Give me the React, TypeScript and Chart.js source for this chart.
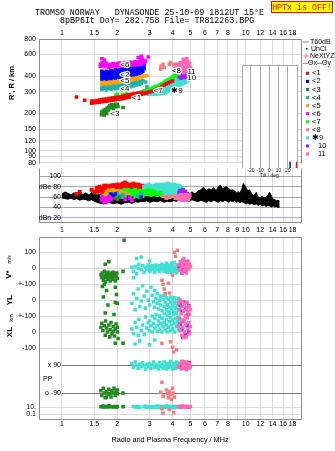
import { useEffect, useRef } from "react";
import { Chart, registerables } from "chart.js";

Chart.register(...registerables);

const SANS = "'Liberation Sans', Arial, sans-serif";
const MONO = "'Liberation Mono', 'DejaVu Sans Mono', monospace";

// ---------- axes / ticks ----------
const FREQ_MIN = 0.75;
const FREQ_MAX = 20;
const freqTicks = [1, 1.5, 2, 3, 4, 5, 6, 7, 8, 9, 10, 12, 14, 16, 18];
const freqLabelsTop = ["1", "1.5", "2", "3", "4", "5", "6", "7", "8", "", "10", "12", "14", "16", "18"];
const freqLabelsMid = ["1", "1.5", "2", "3", "4", "5", "6", "7", "8", "9", "10", "12", "14", "16", "18"];
const freqLabelsBottom = ["1", "1.5", "2", "3", "4", "5", "6", "7", "8", "", "10", "12", "14", "16", "18"];
const heightTicks = [80, 90, 100, 120, 150, 200, 300, 400, 600, 800];
const ampTicks = [20, 40, 60, 80, 100];
const ampLabels = ["dBn 20", "40", "60", "dBe 80", "100"];
const tiltTicks = [-20, -10, 0, 10, 20];

const traceNames = ["<1", "<2", "<3", "<4", "<5", "<6", "<7", "<8", "\u27319", "10", "11"];
const traceColors = ["#ff0000", "#0000ff", "#228b22", "#20b2aa", "#ffa500", "#ff00ff", "#00ff00", "#f08080", "#40e0d0", "#a020f0", "#ff69b4"];
const traceLabelFreq = [2.55, 2.2, 1.94, 2.2, 2.2, 2.2, 3.34, 4.2, 4.23, 5.08, 5.08];
const traceLabelHeight = [268, 412, 199, 317, 366, 495, 303, 445, 303, 388, 437];

type P = [number, number];

// ---------- panel A: virtual height (MHz, km) ----------
const hRed: P[] = [[1.2,272],[1.33,256],[1.45,242],[1.45,252],[1.5,244],[1.5,253],[1.55,246],[1.55,255],[1.6,247],[1.6,257],[1.65,249],[1.65,259],[1.7,251],[1.7,261],[1.75,252],[1.75,262],[1.8,254],[1.8,264],[1.85,256],[1.85,266],[1.9,257],[1.9,267],[1.95,259],[1.95,269],[2.0,261],[2.0,271],[2.05,262],[2.05,272],[2.1,264],[2.1,274],[2.15,265],[2.15,276],[2.2,267],[2.2,278],[2.25,269],[2.25,280],[2.3,271],[2.3,282],[2.35,273],[2.35,284],[2.4,275],[2.4,286],[2.45,277],[2.45,288],[2.5,279],[2.5,290],[2.55,281],[2.6,283],[2.6,293],[2.65,285],[2.7,287],[2.7,296],[2.75,289],[2.8,291],[2.85,293],[2.9,295],[3.0,298],[3.1,303],[3.2,309],[3.3,316],[3.4,323],[3.5,331],[3.6,340],[3.7,348],[3.8,355],[3.9,361],[4.0,366]];
const hGreen: P[] = [[1.97,282],[2.0,286],[2.15,285],[2.25,290],[2.75,298],[2.8,306],[2.85,302],[2.9,310],[2.95,306],[3.0,314],[3.05,311],[3.1,320],[3.15,317],[3.2,326],[3.25,323],[3.3,332],[3.35,330],[3.4,340],[3.45,338],[3.5,348],[3.55,346],[3.6,357],[3.65,355],[3.7,366],[3.75,364],[3.8,376],[3.85,374],[3.9,386],[3.95,384],[4.0,396],[4.05,394],[4.1,405],[4.15,404],[4.2,414],[4.25,420]];
const hCyan: P[] = [[2.85,288],[2.85,300],[2.95,287],[2.95,298],[2.95,310],[3.05,286],[3.05,297],[3.05,308],[3.05,318],[3.15,286],[3.15,296],[3.15,307],[3.15,318],[3.15,328],[3.25,287],[3.25,297],[3.25,308],[3.25,320],[3.25,332],[3.35,288],[3.35,299],[3.35,311],[3.35,323],[3.35,336],[3.45,290],[3.45,301],[3.45,313],[3.45,326],[3.45,340],[3.55,292],[3.55,304],[3.55,317],[3.55,331],[3.55,345],[3.65,295],[3.65,308],[3.65,322],[3.65,336],[3.65,350],[3.65,362],[3.75,300],[3.75,313],[3.75,327],[3.75,341],[3.75,356],[3.75,370],[3.85,306],[3.85,319],[3.85,333],[3.85,348],[3.85,362],[3.85,376],[3.95,312],[3.95,326],[3.95,340],[3.95,355],[3.95,370],[3.95,383],[4.05,318],[4.05,332],[4.05,347],[4.05,362],[4.05,377],[4.05,390],[4.15,324],[4.15,339],[4.15,354],[4.15,369],[4.15,384],[4.25,330],[4.25,345],[4.25,360],[4.25,375],[4.25,390],[4.35,336],[4.35,351],[4.35,366],[4.35,381],[4.35,396],[4.45,342],[4.45,357],[4.45,372],[4.45,387],[4.45,400],[4.55,348],[4.55,362],[4.55,377],[4.55,392],[4.65,354],[4.65,368],[4.65,382],[4.65,396],[4.75,360],[4.75,374],[4.75,388],[4.85,368],[4.85,381],[4.85,394],[4.95,376],[4.95,388],[4.95,400]];
const hTeal: P[] = [[1.65,313],[1.65,328],[1.7,318],[1.7,334],[1.75,312],[1.75,326],[1.8,320],[1.8,335],[1.85,314],[1.85,329],[1.9,322],[1.9,337],[1.95,317],[1.95,331],[2.0,324],[2.0,340],[2.05,319],[2.05,334],[2.1,327],[2.1,343],[2.15,322],[2.15,338],[2.2,330],[2.2,346],[2.25,326],[2.25,342],[2.3,334],[2.3,350],[2.35,330],[2.35,346],[2.4,338],[2.4,355],[2.45,334],[2.45,351],[2.5,343],[2.5,360],[2.55,340],[2.55,356],[2.6,348],[2.6,366],[2.65,345],[2.65,362],[2.7,352],[2.75,368],[2.85,360],[2.9,330]];
const hOrange: P[] = [[1.65,345],[1.65,362],[1.7,352],[1.7,368],[1.75,347],[1.75,362],[1.8,355],[1.8,371],[1.85,350],[1.85,366],[1.9,358],[1.9,374],[1.95,354],[1.95,370],[2.0,362],[2.0,378],[2.05,358],[2.05,374],[2.1,366],[2.1,383],[2.15,362],[2.15,379],[2.2,370],[2.2,387],[2.25,367],[2.25,384],[2.3,375],[2.3,392],[2.35,372],[2.35,389],[2.4,380],[2.4,398],[2.45,377],[2.45,394],[2.5,385],[2.5,403],[2.55,382],[2.55,400],[2.6,391],[2.6,409],[2.65,388],[2.65,406],[2.7,396],[2.7,414],[2.8,400],[2.9,405]];
const hBlue: P[] = [[1.65,380],[1.65,400],[1.65,422],[1.65,440],[1.7,386],[1.7,408],[1.7,430],[1.75,380],[1.75,398],[1.75,418],[1.75,440],[1.8,388],[1.8,410],[1.8,432],[1.85,384],[1.85,402],[1.85,424],[1.85,446],[1.9,392],[1.9,414],[1.9,436],[1.95,388],[1.95,408],[1.95,430],[1.95,452],[2.0,396],[2.0,418],[2.0,442],[2.05,392],[2.05,412],[2.05,434],[2.05,456],[2.1,400],[2.1,424],[2.1,448],[2.15,396],[2.15,418],[2.15,440],[2.15,462],[2.2,405],[2.2,428],[2.2,452],[2.25,402],[2.25,424],[2.25,446],[2.25,468],[2.3,410],[2.3,434],[2.3,458],[2.35,408],[2.35,430],[2.35,452],[2.35,474],[2.4,416],[2.4,440],[2.4,464],[2.45,412],[2.45,436],[2.45,460],[2.45,480],[2.5,420],[2.5,446],[2.5,470],[2.55,418],[2.55,442],[2.55,466],[2.55,486],[2.6,426],[2.6,450],[2.6,476],[2.65,424],[2.65,448],[2.65,472],[2.7,432],[2.7,456],[2.7,482],[2.75,440],[2.75,470],[2.8,460],[2.8,490]];
const hMagenta: P[] = [[1.62,480],[1.62,500],[1.65,515],[1.67,490],[1.7,478],[1.72,500],[1.75,485],[1.75,510],[1.8,492],[1.8,474],[1.85,500],[1.85,482],[1.9,488],[1.9,508],[1.95,496],[1.95,478],[2.0,504],[2.0,486],[2.05,492],[2.05,512],[2.1,500],[2.1,482],[2.15,508],[2.15,490],[2.2,496],[2.2,516],[2.25,504],[2.25,486],[2.3,512],[2.3,494],[2.35,500],[2.35,520],[2.4,508],[2.4,490],[2.45,516],[2.45,498],[2.5,505],[2.5,526],[2.55,512],[2.55,494],[2.6,520],[2.6,502],[2.65,510],[2.65,532],[2.7,518],[2.7,500],[2.75,526],[2.75,545],[2.8,512],[2.85,530],[2.95,572],[1.65,555],[1.7,540],[2.6,568],[2.7,580],[2.72,560]];
const hDkGreen: P[] = [[1.64,196],[1.65,206],[1.67,200],[1.68,212],[1.7,195],[1.7,204],[1.72,216],[1.73,208],[1.75,200],[1.76,222],[1.78,212],[1.8,226],[1.8,218],[1.82,232],[1.84,224],[1.86,236],[1.88,228],[1.9,220],[1.92,234],[1.94,226],[1.96,238],[1.98,230],[2.0,236],[2.02,228],[2.15,224]];
const hSalmon: P[] = [[3.45,456],[3.46,482],[3.55,500],[3.6,470],[3.84,500],[3.9,516],[4.05,495],[4.12,500],[4.12,460],[4.2,478],[4.4,505]];
const hPink: P[] = [[4.12,440],[4.15,470],[4.2,430],[4.22,500],[4.3,455],[4.3,485],[4.35,420],[4.4,470],[4.4,515],[4.45,440],[4.5,495],[4.55,460],[4.6,430],[4.6,520],[4.65,480],[4.7,450],[4.72,540],[4.75,505],[4.8,470],[4.82,430],[4.85,525],[4.9,490],[4.9,455],[4.95,510],[5.0,470],[4.58,548],[4.78,555]];
const hPurple: P[] = [[4.35,395],[4.4,415],[4.45,385],[4.5,405],[4.55,425],[4.6,395],[4.65,440],[4.7,410],[4.75,390],[4.8,425],[4.85,405],[4.4,440]];

// tilt inset (deg, km)
const tiltBlue: P[] = [[22.5, 84]];
const tiltRed: P[] = [[29.5, 84]];

// ---------- panel B: amplitude (MHz, dB) ----------
const noiseFreq = [1.0,1.04,1.08,1.12,1.16,1.2,1.25,1.3,1.35,1.4,1.45,1.5,1.55,1.6,1.7,1.8,1.9,2.0,2.1,2.2,2.3,2.4,2.5,2.6,2.7,2.8,2.9,3.0,3.15,3.3,3.45,3.6,3.75,3.9,4.05,4.2,4.35,4.5,4.65,4.8,4.95,5.1,5.3,5.5,5.7,5.9,6.1,6.3,6.5,6.7,6.9,7.1,7.3,7.5,7.7,7.9,8.1,8.3,8.5,8.7,8.9,9.1,9.3,9.5,9.7,9.9,10.1,10.3,10.5,10.8,11.1,11.4,11.7,12.0,12.3,12.6,12.9,13.2,13.5,13.8,14.1,14.4,14.7,15.0,15.3];
const noiseUpper = [66,70,67,64,68,66,70,65,68,64,69,66,64,65,63,64,62,64,62,63,62,63,62,63,62,64,66,63,64,62,63,62,64,63,62,64,62,63,62,64,66,70,66,72,74,79,72,76,74,78,72,80,83,76,79,80,76,73,74,72,68,70,68,74,86,82,76,72,74,66,63,69,60,59,62,58,60,64,69,62,56,55,53,54,52];
const noiseLower = [58,57,56,58,55,57,54,56,55,53,55,52,50,48,47,50,47,49,46,49,50,48,51,50,52,51,53,50,52,51,53,50,52,51,53,52,54,52,55,53,52,55,53,51,54,52,50,53,51,54,52,50,53,51,54,52,50,53,51,54,50,52,49,51,50,48,47,49,46,48,45,47,44,46,43,45,42,44,43,41,43,41,42,40,41];
const ampRed: P[] = [[1.2,66],[1.25,70],[1.45,74],[1.5,70],[1.55,70],[1.55,74],[1.55,78],[1.6,72],[1.6,76],[1.6,80],[1.65,70],[1.65,74],[1.65,78],[1.7,72],[1.7,76],[1.7,80],[1.7,82],[1.75,74],[1.75,78],[1.75,82],[1.8,72],[1.8,76],[1.8,80],[1.85,74],[1.85,78],[1.85,82],[1.9,72],[1.9,76],[1.9,80],[1.9,83],[1.95,74],[1.95,78],[1.95,82],[2.0,72],[2.0,76],[2.0,80],[2.0,84],[2.05,74],[2.05,78],[2.05,82],[2.1,72],[2.1,76],[2.1,80],[2.1,84],[2.15,74],[2.15,78],[2.15,82],[2.15,86],[2.2,76],[2.2,80],[2.2,84],[2.2,88],[2.25,74],[2.25,78],[2.25,82],[2.25,86],[2.3,72],[2.3,76],[2.3,80],[2.3,84],[2.35,74],[2.35,78],[2.35,82],[2.4,76],[2.4,80],[2.4,84],[2.45,74],[2.45,78],[2.45,82],[2.45,86],[2.5,72],[2.5,76],[2.5,80],[2.5,84],[2.55,74],[2.55,78],[2.55,82],[2.6,72],[2.6,76],[2.6,80],[2.6,84],[2.65,74],[2.65,78],[2.65,82],[2.7,72],[2.7,76],[2.7,80],[2.75,74],[2.75,78],[2.75,82],[2.8,72],[2.8,76],[2.8,80]];
const ampOrange: P[] = [[1.75,64],[1.75,70],[1.8,67],[1.8,73],[1.85,64],[1.85,70],[1.9,66],[1.9,74],[1.95,63],[1.95,69],[2.0,66],[2.0,72],[2.05,64],[2.1,70],[2.15,66],[2.2,68],[1.7,62],[2.3,64]];
const ampTeal: P[] = [[1.82,66],[1.85,62],[1.9,64],[1.95,60],[2.0,68],[2.05,62],[2.1,60],[2.15,64],[2.6,62],[2.7,66]];
const ampGreen: P[] = [[2.05,66],[2.1,62],[2.1,72],[2.15,68],[2.2,62],[2.2,74],[2.25,66],[2.25,70],[2.3,62],[2.3,74],[2.35,68],[2.4,64],[2.4,72],[2.45,60],[2.45,68],[2.5,66],[2.5,74],[2.55,62],[2.55,70],[2.6,66],[2.65,60],[2.65,72],[2.7,66],[2.75,62],[2.75,70],[2.8,66],[2.85,72],[2.9,66],[2.95,74],[3.0,68],[3.05,64],[3.1,72],[3.15,66],[3.2,70],[3.3,64],[3.4,68],[3.5,64]];
const ampBlue: P[] = [[1.85,66],[1.9,62],[1.95,66],[2.3,60],[2.7,60],[2.4,58]];
const ampMagenta: P[] = [[1.65,54],[1.65,60],[1.7,50],[1.7,56],[1.75,52],[1.75,58],[1.8,54],[1.8,60],[1.85,56],[2.35,58],[2.4,54],[2.2,56]];
const ampDkGreen: P[] = [[1.95,58],[2.0,56],[2.05,60]];
const ampCyan: P[] = [[2.8,68],[2.8,74],[2.8,80],[2.88,70],[2.88,76],[2.88,82],[2.96,68],[2.96,74],[2.96,80],[2.96,84],[3.04,70],[3.04,76],[3.04,82],[3.12,68],[3.12,74],[3.12,80],[3.2,70],[3.2,76],[3.2,82],[3.28,68],[3.28,74],[3.28,80],[3.28,84],[3.36,70],[3.36,76],[3.36,82],[3.44,66],[3.44,72],[3.44,78],[3.44,84],[3.52,70],[3.52,76],[3.52,82],[3.6,66],[3.6,72],[3.6,78],[3.6,84],[3.68,70],[3.68,76],[3.68,82],[3.76,66],[3.76,72],[3.76,78],[3.76,86],[3.84,70],[3.84,76],[3.84,82],[3.92,66],[3.92,72],[3.92,78],[3.92,84],[4.0,70],[4.0,76],[4.0,82],[4.08,66],[4.08,72],[4.08,78],[4.08,84],[4.16,70],[4.16,76],[4.16,82],[4.24,66],[4.24,72],[4.24,78],[4.32,70],[4.32,76],[4.32,82],[4.4,68],[4.4,74],[4.4,80],[4.48,70],[4.48,76],[4.56,68],[4.56,74],[4.64,72]];
const ampPink: P[] = [[4.25,58],[4.3,62],[4.35,56],[4.4,60],[4.45,64],[4.5,58],[4.55,62],[4.6,56],[4.65,60],[4.7,64],[4.75,58],[4.8,62],[4.85,56],[4.9,60],[4.95,64],[4.5,54],[4.7,54]];
const ampPurple: P[] = [[4.35,68],[4.4,72],[4.45,66],[4.5,70],[4.55,74],[4.6,68],[4.7,70],[4.8,66]];
const ampSalmon: P[] = [[3.55,62],[3.7,58],[3.85,60],[4.0,62],[4.15,58],[4.3,62],[4.45,66]];

// ---------- panel C: Doppler V* (m/s), YL, XL (km), PP (deg), EP (deg) ----------
const vDkGreen: P[] = [[1.63,-40],[1.65,-60],[1.66,-30],[1.68,-75],[1.7,-45],[1.7,-20],[1.72,-60],[1.73,-85],[1.75,-35],[1.76,-50],[1.78,-70],[1.78,-25],[1.8,-55],[1.82,-40],[1.83,-80],[1.85,-30],[1.86,-60],[1.88,-45],[1.9,-70],[1.9,-25],[1.92,-55],[1.94,-38],[1.95,-80],[1.97,-50],[1.99,-30],[2.0,-65],[1.72,25],[1.8,40],[1.66,-115],[1.75,-140],[1.95,-120],[1.98,-165],[1.7,-100],[2.15,-20],[2.18,175]];
const vCyan: P[] = [[2.4,5],[2.45,-20],[2.5,10],[2.55,-35],[2.6,0],[2.62,25],[2.7,-10],[2.75,15],[2.8,-25],[2.85,5],[2.9,-5],[2.95,20],[3.0,0],[3.0,-20],[3.05,10],[3.1,-10],[3.1,15],[3.15,-5],[3.2,5],[3.2,-25],[3.25,20],[3.3,-10],[3.3,10],[3.35,0],[3.4,-20],[3.4,15],[3.45,5],[3.5,-10],[3.5,25],[3.55,0],[3.6,-20],[3.6,15],[3.65,5],[3.7,-10],[3.7,30],[3.75,-25],[3.75,10],[3.8,0],[3.85,-15],[3.85,20],[3.9,5],[3.95,-25],[3.95,30],[4.0,-5],[4.0,15],[4.05,-20],[4.1,5],[4.1,35],[4.15,-10],[4.2,20],[4.2,-30],[4.25,0],[4.3,15],[4.35,-15],[4.4,10],[2.55,60],[2.7,70],[3.0,45],[2.45,-60]];
const vPink: P[] = [[4.3,20],[4.35,-10],[4.4,40],[4.45,0],[4.5,25],[4.5,-25],[4.55,50],[4.6,10],[4.65,-15],[4.7,35],[4.75,0],[4.8,20],[4.85,45],[4.9,-5],[4.95,25],[5.0,10],[4.6,60],[4.75,-30]];
const vPurple: P[] = [[4.35,10],[4.45,30],[4.55,-10],[4.65,20],[4.75,40],[4.85,0],[4.5,-30],[4.7,-20]];
const vSalmon: P[] = [[3.5,-75],[3.55,-100],[3.6,-130],[3.8,-95],[3.85,-155],[3.65,-160],[4.1,100],[4.15,75],[4.25,112],[4.0,-45]];
const ylDkGreen: P[] = [[1.68,20],[1.78,-30],[1.95,-15],[1.72,-80],[1.92,-90],[2.0,-20]];
const ylCyan: P[] = [[2.4,-20],[2.45,40],[2.5,-60],[2.55,10],[2.6,70],[2.65,-40],[2.7,-5],[2.75,90],[2.8,25],[2.85,-50],[2.9,55],[2.95,0],[3.0,-30],[3.05,80],[3.1,30],[3.15,-10],[3.2,60],[3.2,-45],[3.25,10],[3.3,-20],[3.3,40],[3.35,-55],[3.4,0],[3.45,-30],[3.45,25],[3.5,-65],[3.55,5],[3.6,-40],[3.6,30],[3.65,-15],[3.7,-60],[3.7,15],[3.75,-30],[3.8,5],[3.8,-70],[3.85,-45],[3.9,20],[3.9,-15],[3.95,-55],[4.0,0],[4.0,-35],[4.05,-70],[4.1,15],[4.1,-20],[4.15,-50],[4.2,-5],[4.2,-80],[4.25,-35],[4.3,10],[4.3,-60],[4.35,-20],[4.4,-45]];
const ylPink: P[] = [[4.3,-20],[4.35,-60],[4.4,0],[4.45,-85],[4.5,-40],[4.55,-10],[4.6,-70],[4.65,-30],[4.7,-100],[4.75,-50],[4.8,-15],[4.85,-75],[4.9,-40],[4.95,-90],[5.0,-60]];
const ylPurple: P[] = [[4.4,-30],[4.5,-70],[4.6,-10],[4.7,-55],[4.8,-95],[4.9,-35]];
const xlDkGreen: P[] = [[1.63,30],[1.65,55],[1.67,10],[1.7,40],[1.72,-20],[1.73,70],[1.75,25],[1.77,0],[1.8,45],[1.82,-30],[1.83,15],[1.85,60],[1.87,-10],[1.9,35],[1.9,5],[1.93,-25],[1.95,20],[1.97,50],[2.0,0],[2.0,30],[2.02,-40],[1.95,-70],[2.15,-70]];
const xlCyan: P[] = [[2.4,20],[2.45,-10],[2.5,60],[2.55,30],[2.6,-20],[2.62,80],[2.7,10],[2.75,45],[2.8,-15],[2.85,95],[2.9,25],[2.95,60],[3.0,10],[3.0,70],[3.05,40],[3.1,100],[3.1,0],[3.15,55],[3.2,25],[3.2,85],[3.25,110],[3.3,40],[3.3,5],[3.35,70],[3.4,20],[3.4,100],[3.45,55],[3.5,0],[3.5,85],[3.55,35],[3.6,115],[3.6,60],[3.65,15],[3.7,80],[3.7,45],[3.75,105],[3.75,0],[3.8,30],[3.85,65],[3.85,120],[3.9,10],[3.9,90],[3.95,45],[4.0,75],[4.0,20],[4.05,110],[4.1,55],[4.1,0],[4.15,85],[4.2,35],[4.2,120],[4.25,65],[4.3,15],[4.3,95],[4.35,50],[4.4,80],[4.4,25],[2.5,-75],[2.65,-55],[3.2,-50],[3.0,-80]];
const xlPink: P[] = [[4.3,40],[4.35,85],[4.4,10],[4.45,60],[4.5,-20],[4.55,30],[4.6,75],[4.65,0],[4.7,50],[4.75,-30],[4.8,90],[4.85,20],[4.9,60],[4.95,-10],[5.0,35],[4.6,-35]];
const xlPurple: P[] = [[4.4,50],[4.5,15],[4.6,70],[4.7,-15],[4.8,40],[4.9,0],[4.55,-30]];
const xlSalmon: P[] = [[3.9,-60],[4.0,-95],[4.05,-125],[3.5,-70],[4.2,-110]];
const ppDkGreen: P[] = [[1.63,-75],[1.65,-105],[1.68,-60],[1.7,-90],[1.72,-120],[1.75,-80],[1.78,-100],[1.8,-65],[1.82,-95],[1.85,-115],[1.87,-75],[1.9,-90],[1.92,-60],[1.95,-105],[1.97,-80],[2.0,-95],[2.0,-70],[1.75,-115],[2.15,-90]];
const ppCyan: P[] = [[2.4,100],[2.45,75],[2.5,110],[2.55,90],[2.6,70],[2.65,95],[2.7,80],[2.75,105],[2.8,85],[2.85,65],[2.9,95],[2.95,80],[3.0,100],[3.05,70],[3.1,90],[3.15,110],[3.2,75],[3.25,95],[3.3,85],[3.35,65],[3.4,105],[3.45,80],[3.5,95],[3.55,70],[3.6,110],[3.65,85],[3.7,65],[3.75,100],[3.8,75],[3.85,95],[3.9,115],[3.95,80],[4.0,65],[4.05,100],[4.1,85],[4.15,70],[4.2,110],[4.25,90],[4.3,75],[4.35,100],[4.4,85]];
const ppPink: P[] = [[4.3,80],[4.4,100],[4.45,65],[4.5,115],[4.55,90],[4.6,70],[4.65,105],[4.7,85],[4.75,60],[4.8,110],[4.85,90],[4.9,70],[4.95,100],[5.0,80]];
const ppPurple: P[] = [[4.4,80],[4.5,95],[4.6,110],[4.7,70],[4.8,90],[4.9,105]];
const ppSalmon: P[] = [[3.5,-20],[3.45,-85],[3.55,-110],[3.7,-70],[3.75,-95],[3.8,-120],[3.85,-80],[3.9,-100],[4.0,-60],[4.05,-90],[4.1,-115],[3.95,-130]];
const epDkGreen: P[] = [[1.63,12],[1.66,15],[1.7,10],[1.74,14],[1.78,11],[1.82,16],[1.86,12],[1.9,10],[1.94,15],[1.98,11],[2.0,13],[1.68,20],[1.8,22],[2.15,12]];
const epCyan: P[] = [[2.45,15],[2.5,12],[2.55,10],[2.6,14],[2.65,8],[2.8,12],[2.85,16],[2.9,9],[3.0,13],[3.05,7],[3.1,11],[3.15,15],[3.2,8],[3.25,12],[3.3,18],[3.35,9],[3.4,13],[3.45,6],[3.5,11],[3.55,15],[3.6,8],[3.65,12],[3.7,20],[3.75,9],[3.8,14],[3.85,7],[3.9,12],[3.95,16],[4.0,9],[4.05,13],[4.1,6],[4.15,11],[4.2,15],[4.25,8],[4.3,12],[4.35,10],[4.4,14]];
const epPink: P[] = [[4.3,15],[4.4,10],[4.5,18],[4.6,12],[4.7,8],[4.8,16],[4.9,11],[5.0,14]];
const epPurple: P[] = [[4.45,10],[4.6,15],[4.75,12],[4.9,9]];
const epSalmon: P[] = [[3.55,0.2],[3.5,3],[3.85,2],[4.05,0.25]];

// ---------- composite rows of panel C (axis unit = px from panel bottom) ----------
const vRow = (v: number) => 151 + v * 0.16;
const ylRow = (v: number) => 119 + v * 0.16;
const xlRow = (v: number) => 87 + v * 0.16;
const ppRow = (p: number) => 40 + (p * 14) / 90;
const epRow = (e: number) => 8.5 + 3.5 * Math.log10(e);
const cTicks = [vRow(100), vRow(0), vRow(-100), ylRow(0), ylRow(-100), xlRow(0), xlRow(-100), epRow(10), epRow(0.1)];
const cTickLabels = ["100", "0", "+-100", "0", "+-100", "0", "-100", "10.", "0.1"];

const GRID = "#dcdcdc";
const FRAME = "#8c8c8c";
const tickFont = { family: SANS, size: 7 };

const pts = (arr: P[], fy: (v: number) => number = (v) => v) => arr.map(([x, y]) => ({ x, y: fy(y) }));

function sq(data: any[], color: string, r: number) {
  return { type: "scatter", data, backgroundColor: color, borderWidth: 0, pointStyle: "rect", pointRadius: r, pointHoverRadius: r };
}

function ordered(list: any[]) {
  // first element is drawn at the bottom
  return list.map((d, i) => ({ ...d, order: list.length - i }));
}

function freqAxis(position: string, labels: string[], height: number, pad: number, title?: any) {
  return {
    type: "logarithmic",
    position,
    min: FREQ_MIN,
    max: FREQ_MAX,
    afterBuildTicks: (s: any) => {
      s.ticks = freqTicks.map((v) => ({ value: v }));
    },
    afterFit: (s: any) => {
      s.height = height;
    },
    ticks: { autoSkip: false, maxRotation: 0, minRotation: 0, padding: pad, font: tickFont, color: "#000", callback: (_v: any, i: number) => labels[i] },
    grid: { color: GRID, lineWidth: 1, drawTicks: false },
    border: { display: false },
    title: title || { display: false },
  };
}

function framePlugin(sides: string, color = FRAME) {
  return {
    id: "frame",
    afterDatasetsDraw(chart: any) {
      const { ctx, chartArea: a } = chart;
      const l = Math.round(a.left) + 0.5;
      const r = Math.round(a.right) + 0.5;
      const t = Math.round(a.top) + 0.5;
      const b = Math.round(a.bottom) + 0.5;
      ctx.save();
      ctx.strokeStyle = color;
      ctx.lineWidth = 1;
      ctx.beginPath();
      if (sides.includes("l")) { ctx.moveTo(l, t); ctx.lineTo(l, b); }
      if (sides.includes("r")) { ctx.moveTo(r, t); ctx.lineTo(r, b); }
      if (sides.includes("t")) { ctx.moveTo(l, t); ctx.lineTo(r, t); }
      if (sides.includes("b")) { ctx.moveTo(l, b); ctx.lineTo(r, b); }
      ctx.stroke();
      ctx.restore();
    },
  };
}

function vText(ctx: any, text: string, x: number, y: number, font: string) {
  ctx.save();
  ctx.translate(x, y);
  ctx.rotate(-Math.PI / 2);
  ctx.font = font;
  ctx.textAlign = "center";
  ctx.textBaseline = "middle";
  ctx.fillText(text, 0, 0);
  ctx.restore();
}

const baseOptions = {
  responsive: false,
  animation: false,
  events: [],
  devicePixelRatio: 1,
};

const noPlugins = { legend: { display: false }, tooltip: { enabled: false } };

function cfgA() {
  const sets = [hCyan, hGreen, hRed, hTeal, hOrange, hBlue, hMagenta, hDkGreen, hSalmon, hPurple, hPink];
  const cols = [traceColors[8], traceColors[6], traceColors[0], traceColors[3], traceColors[4], traceColors[1], traceColors[5], traceColors[2], traceColors[7], traceColors[9], traceColors[10]];
  const datasets = ordered(sets.map((s, i) => sq(pts(s), cols[i], 2.5)));
  const annot = {
    id: "annotA",
    afterDatasetsDraw(chart: any) {
      const { ctx, scales } = chart;
      ctx.save();
      ctx.font = `8px ${SANS}`;
      ctx.textAlign = "center";
      ctx.textBaseline = "middle";
      ctx.lineJoin = "round";
      traceNames.forEach((n, i) => {
        const x = scales.x.getPixelForValue(traceLabelFreq[i]);
        const y = scales.y.getPixelForValue(traceLabelHeight[i]);
        ctx.strokeStyle = "#fff";
        ctx.lineWidth = 2.5;
        ctx.strokeText(n, x, y);
        ctx.fillStyle = "#000";
        ctx.fillText(n, x, y);
      });
      ctx.restore();
    },
    afterDraw(chart: any) {
      const { ctx } = chart;
      ctx.save();
      // title lines
      ctx.fillStyle = "#000";
      ctx.font = `8.3px ${MONO}`;
      ctx.textBaseline = "middle";
      ctx.textAlign = "left";
      ctx.fillText("TROMSO NORWAY   DYNASONDE 25-10-09 1812UT 15\u00b0E", 35, 12.5);
      ctx.fillText("8pBP6It DoY= 282.758 File= TR812263.BPG", 60, 21);
      // HPTx box
      ctx.fillStyle = "#ffff00";
      ctx.fillRect(271, 1, 62, 12);
      ctx.strokeStyle = "#ff0000";
      ctx.lineWidth = 1;
      ctx.strokeRect(271.5, 1.5, 61, 11);
      ctx.fillStyle = "#ff0000";
      ctx.textAlign = "center";
      ctx.fillText("HPTx is OFF!", 302, 7.5);
      // y title
      ctx.fillStyle = "#000";
      vText(ctx, "R', R / km", 11.5, 83, `bold 7.5px ${SANS}`);
      // legend
      ctx.font = `7px ${SANS}`;
      ctx.textAlign = "left";
      ctx.textBaseline = "middle";
      ctx.strokeStyle = "#b0b0b0";
      ctx.lineWidth = 1.5;
      ctx.beginPath(); ctx.moveTo(303, 42); ctx.lineTo(309, 42); ctx.stroke();
      ctx.fillStyle = "#000";
      ctx.fillText("T60dB", 310, 42);
      ctx.fillRect(306, 48, 1.5, 1.5);
      ctx.fillText("UnCl", 311, 49);
      ctx.strokeStyle = "#ff69b4";
      ctx.lineWidth = 1;
      ctx.beginPath(); ctx.moveTo(303.5, 56); ctx.lineTo(308.5, 56); ctx.moveTo(306, 53.5); ctx.lineTo(306, 58.5); ctx.stroke();
      ctx.fillText("NeXtYZ", 310, 56);
      ctx.strokeStyle = "#f08080";
      ctx.beginPath(); ctx.moveTo(303, 63.5); ctx.lineTo(308, 63.5); ctx.stroke();
      ctx.fillText("\u0398x", 308, 63.5);
      ctx.strokeStyle = "#8080ff";
      ctx.beginPath(); ctx.moveTo(317, 63.5); ctx.lineTo(322, 63.5); ctx.stroke();
      ctx.fillText("\u0398y", 322, 63.5);
      traceNames.forEach((n, i) => {
        const y = 73.3 + i * 8.07;
        ctx.fillStyle = traceColors[i];
        ctx.fillRect(306, y - 1.5, 3, 3);
        ctx.fillStyle = "#000";
        ctx.font = `7.5px ${SANS}`;
        ctx.fillText(n, i >= 9 ? 318 : 312, y);
      });
      ctx.restore();
    },
  };
  return {
    type: "scatter",
    data: { datasets },
    options: {
      ...baseOptions,
      layout: { padding: { left: 0, right: 34, top: 0, bottom: 2 }, autoPadding: false },
      plugins: noPlugins,
      scales: {
        x: freqAxis("top", freqLabelsTop, 39, 1.5),
        y: {
          type: "logarithmic",
          min: 80,
          max: 800,
          afterBuildTicks: (s: any) => {
            s.ticks = heightTicks.map((v) => ({ value: v }));
          },
          afterFit: (s: any) => {
            s.width = 39;
          },
          ticks: { autoSkip: false, padding: 3, font: tickFont, color: "#000", callback: (_v: any, i: number) => String(heightTicks[i]) },
          grid: { color: GRID, drawTicks: false },
          border: { display: false },
        },
      },
    },
    plugins: [framePlugin("ltr"), annot],
  };
}

function cfgTilt() {
  const datasets = [
    { type: "scatter", data: pts(tiltBlue), borderColor: "#0000ff", borderWidth: 1.5, pointStyle: "line", rotation: 90, pointRadius: 3.5 },
    { type: "scatter", data: pts(tiltRed), borderColor: "#ff0000", borderWidth: 1.5, pointStyle: "line", rotation: 90, pointRadius: 3.5 },
  ];
  const bg = {
    id: "bg",
    beforeDraw(chart: any) {
      const { ctx, chartArea: a } = chart;
      ctx.save();
      ctx.fillStyle = "#fff";
      ctx.fillRect(a.left, a.top, a.right - a.left, a.bottom - a.top);
      ctx.restore();
    },
  };
  return {
    type: "scatter",
    data: { datasets },
    options: {
      ...baseOptions,
      layout: { padding: { left: 11.7, right: 38, top: 10, bottom: 0 }, autoPadding: false },
      plugins: noPlugins,
      scales: {
        x: {
          type: "linear",
          min: -30,
          max: 30,
          afterBuildTicks: (s: any) => {
            s.ticks = tiltTicks.map((v) => ({ value: v }));
          },
          afterFit: (s: any) => {
            s.height = 12;
          },
          ticks: { autoSkip: false, maxRotation: 0, padding: 0, font: { family: SANS, size: 5 }, color: "#222", callback: (_v: any, i: number) => String(tiltTicks[i]) },
          grid: { color: "#a8a8b8", drawTicks: false },
          border: { display: false },
          title: { display: true, text: "Tilt / deg", font: { family: SANS, size: 5 }, color: "#222", padding: { top: 0, bottom: 1.5 } },
        },
        y: { type: "logarithmic", min: 80, max: 502, display: false },
      },
    },
    plugins: [bg, framePlugin("lrt", "#a8a8b8")],
  };
}

function cfgB() {
  const noiseL = noiseFreq.map((f, i) => ({ x: f, y: noiseLower[i] }));
  const noiseU = noiseFreq.map((f, i) => ({ x: f, y: noiseUpper[i] }));
  const sets = [
    { type: "line", data: noiseL, borderColor: "#000", borderWidth: 1, pointRadius: 0, fill: false, tension: 0 },
    { type: "line", data: noiseU, borderColor: "#000", backgroundColor: "#000", borderWidth: 1, pointRadius: 0, fill: "-1", tension: 0 },
    sq(pts(ampRed), traceColors[0], 2.8),
    sq(pts(ampCyan), traceColors[8], 2.8),
    sq(pts(ampGreen), traceColors[6], 2.8),
    sq(pts(ampOrange), traceColors[4], 2.8),
    sq(pts(ampTeal), traceColors[3], 2.8),
    sq(pts(ampBlue), traceColors[1], 2.4),
    sq(pts(ampDkGreen), traceColors[2], 2.4),
    sq(pts(ampMagenta), traceColors[5], 2.8),
    sq(pts(ampSalmon), traceColors[7], 2.8),
    sq(pts(ampPurple), traceColors[9], 2.8),
    sq(pts(ampPink), traceColors[10], 2.8),
  ];
  const labels = {
    id: "labB",
    afterDraw(chart: any) {
      const { ctx, scales } = chart;
      ctx.save();
      ctx.font = `7px ${SANS}`;
      ctx.fillStyle = "#000";
      ctx.textAlign = "right";
      ctx.textBaseline = "middle";
      const x = scales.x.getPixelForValue(1) - 1;
      ampTicks.forEach((v, i) => ctx.fillText(ampLabels[i], x, scales.y.getPixelForValue(v)));
      ctx.restore();
    },
  };
  return {
    type: "scatter",
    data: { datasets: ordered(sets) },
    options: {
      ...baseOptions,
      layout: { padding: { left: 0, right: 34, top: 8, bottom: 0 }, autoPadding: false },
      plugins: { ...noPlugins, filler: { propagate: false } },
      scales: {
        x: freqAxis("bottom", freqLabelsMid, 18, 3.8),
        y: {
          type: "linear",
          min: 12,
          max: 116,
          afterBuildTicks: (s: any) => {
            s.ticks = ampTicks.map((v) => ({ value: v }));
          },
          afterFit: (s: any) => {
            s.width = 39;
          },
          ticks: { display: false },
          grid: { color: (c: any) => (c.tick && c.tick.value === 20 ? "#a8a8e6" : "#a6a6a6"), drawTicks: false },
          border: { display: false },
        },
      },
    },
    plugins: [framePlugin("lrb"), labels],
  };
}

function cfgC() {
  const R = 2.5;
  const sets = [
    sq(pts(vCyan, vRow), traceColors[8], R),
    sq(pts(ylCyan, ylRow), traceColors[8], R),
    sq(pts(xlCyan, xlRow), traceColors[8], R),
    sq(pts(ppCyan, ppRow), traceColors[8], R),
    sq(pts(epCyan, epRow), traceColors[8], R),
    sq(pts(vDkGreen, vRow), traceColors[2], R),
    sq(pts(ylDkGreen, ylRow), traceColors[2], R),
    sq(pts(xlDkGreen, xlRow), traceColors[2], R),
    sq(pts(ppDkGreen, ppRow), traceColors[2], R),
    sq(pts(epDkGreen, epRow), traceColors[2], R),
    sq(pts(vSalmon, vRow), traceColors[7], R),
    sq(pts(xlSalmon, xlRow), traceColors[7], R),
    sq(pts(ppSalmon, ppRow), traceColors[7], R),
    sq(pts(epSalmon, epRow), traceColors[7], R),
    sq(pts(vPurple, vRow), traceColors[9], R),
    sq(pts(ylPurple, ylRow), traceColors[9], R),
    sq(pts(xlPurple, xlRow), traceColors[9], R),
    sq(pts(ppPurple, ppRow), traceColors[9], R),
    sq(pts(epPurple, epRow), traceColors[9], R),
    sq(pts(vPink, vRow), traceColors[10], R),
    sq(pts(ylPink, ylRow), traceColors[10], R),
    sq(pts(xlPink, xlRow), traceColors[10], R),
    sq(pts(ppPink, ppRow), traceColors[10], R),
    sq(pts(epPink, epRow), traceColors[10], R),
  ];
  const deco = {
    id: "decoC",
    beforeDatasetsDraw(chart: any) {
      const { ctx, scales, chartArea: a } = chart;
      const x0 = scales.x.getPixelForValue(1);
      ctx.save();
      ctx.strokeStyle = "#7a7a7a";
      ctx.lineWidth = 1;
      ctx.beginPath();
      [ppRow(90), ppRow(-90)].forEach((v) => {
        const y = Math.round(scales.y.getPixelForValue(v)) + 0.5;
        ctx.moveTo(x0, y);
        ctx.lineTo(a.right, y);
      });
      ctx.stroke();
      ctx.restore();
    },
    afterDraw(chart: any) {
      const { ctx, scales } = chart;
      const x0 = scales.x.getPixelForValue(1) - 1;
      ctx.save();
      ctx.fillStyle = "#000";
      ctx.font = `7px ${SANS}`;
      ctx.textBaseline = "middle";
      ctx.textAlign = "right";
      ctx.fillText("x 90", x0, scales.y.getPixelForValue(ppRow(90)));
      ctx.fillText("o -90", x0, scales.y.getPixelForValue(ppRow(-90)));
      ctx.textAlign = "left";
      ctx.fillText("PP", 43, scales.y.getPixelForValue(ppRow(0)));
      vText(ctx, "V*", 9, scales.y.getPixelForValue(vRow(-40)), `bold 8px ${SANS}`);
      vText(ctx, "m/s", 10, scales.y.getPixelForValue(vRow(55)), `5px ${SANS}`);
      vText(ctx, "YL", 10, scales.y.getPixelForValue(ylRow(0)), `bold 8px ${SANS}`);
      vText(ctx, "km", 11, scales.y.getPixelForValue(xlRow(90)), `5.5px ${SANS}`);
      vText(ctx, "XL", 10, scales.y.getPixelForValue(xlRow(0)), `bold 8px ${SANS}`);
      vText(ctx, "EP / deg", 14, 405, `bold 6px ${SANS}`);
      ctx.restore();
    },
  };
  return {
    type: "scatter",
    data: { datasets: ordered(sets) },
    options: {
      ...baseOptions,
      layout: { padding: { left: 0, right: 34, top: 7, bottom: 0 }, autoPadding: false },
      plugins: noPlugins,
      scales: {
        x: freqAxis("bottom", freqLabelsBottom, 32, 0.8, {
          display: true,
          text: "Radio and Plasma Frequency / MHz",
          font: { family: SANS, size: 7.3 },
          color: "#000",
          padding: { top: 0, bottom: 7 },
        }),
        y: {
          type: "linear",
          min: 0,
          max: 182,
          afterBuildTicks: (s: any) => {
            s.ticks = cTicks.map((v) => ({ value: v }));
          },
          afterFit: (s: any) => {
            s.width = 39;
          },
          ticks: { autoSkip: false, padding: 3, font: tickFont, color: "#000", callback: (_v: any, i: number) => cTickLabels[i] },
          grid: { color: GRID, drawTicks: false },
          border: { display: false },
        },
      },
    },
    plugins: [framePlugin("lrtb"), deco],
  };
}

export default function App() {
  const aRef = useRef<HTMLCanvasElement>(null);
  const bRef = useRef<HTMLCanvasElement>(null);
  const cRef = useRef<HTMLCanvasElement>(null);
  const tRef = useRef<HTMLCanvasElement>(null);

  useEffect(() => {
    const charts = [
      new Chart(aRef.current as any, cfgA() as any),
      new Chart(bRef.current as any, cfgB() as any),
      new Chart(cRef.current as any, cfgC() as any),
      new Chart(tRef.current as any, cfgTilt() as any),
    ];
    return () => charts.forEach((c) => c.destroy());
  }, []);

  const abs = (left: number, top: number) => ({ position: "absolute" as const, left, top });
  return (
    <div style={{ position: "absolute", left: 0, top: 0, width: 335, height: 451, background: "#fff", overflow: "hidden" }}>
      <canvas ref={aRef} width={335} height={170} style={abs(0, 0)} />
      <canvas ref={bRef} width={335} height={80} style={abs(0, 160)} />
      <canvas ref={cRef} width={335} height={221} style={abs(0, 230)} />
      <canvas ref={tRef} width={105} height={125} style={abs(230, 55)} />
    </div>
  );
}
